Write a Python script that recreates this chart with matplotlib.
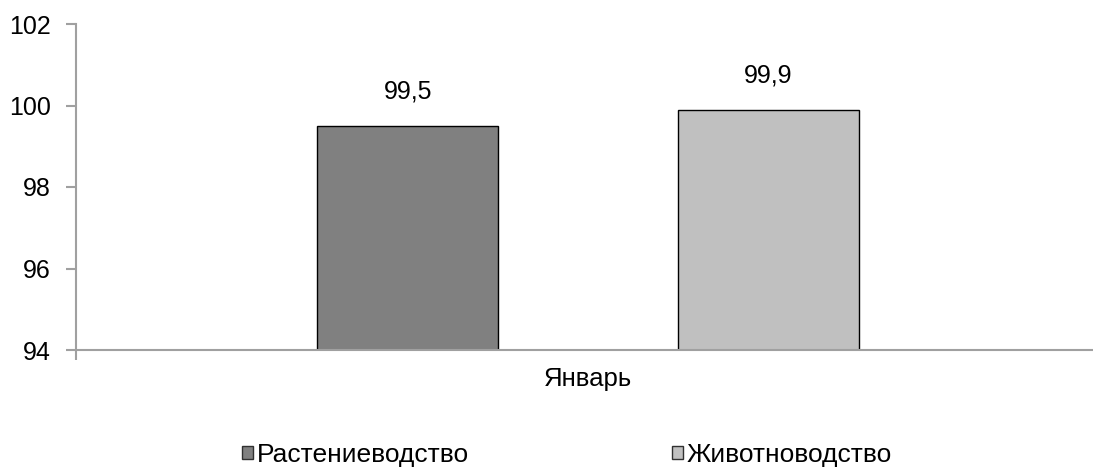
import matplotlib
matplotlib.use("Agg")
import matplotlib.pyplot as plt
from matplotlib.patches import Patch

plt.rcParams["font.family"] = ["Liberation Sans", "DejaVu Sans"]

category = "Январь"
series = ["Растениеводство", "Животноводство"]
values = [99.5, 99.9]
colors = ["#808080", "#c0c0c0"]
yticks = [94, 96, 98, 100, 102]

fig = plt.figure(figsize=(10.93, 4.68), dpi=100)
ax = fig.add_axes([76 / 1093, 1 - 350 / 468, 1024 / 1093, 326 / 468])

width = 0.177
offsets = [-0.176, 0.176]
for off, v, c, name in zip(offsets, values, colors, series):
    ax.bar(off, v - 94, bottom=94, width=width, color=c, edgecolor="black",
           linewidth=1.0, label=name)
    ax.text(off, v + 0.55, f"{v:.1f}".replace(".", ","), ha="center",
            va="bottom", fontsize=18)

ax.set_xlim(-0.5, 0.5)
ax.set_ylim(94, 102)
ax.set_yticks(yticks)
ax.set_yticklabels([str(t) for t in yticks], fontsize=18)
ax.set_xticks([0])
ax.set_xticklabels([category], fontsize=18.5)
ax.tick_params(axis="x", length=0, pad=12)
ax.set_xticks([-0.5, 0.5], minor=True)
ax.tick_params(axis="x", which="minor", length=7, color="#a0a0a0", width=1.5)
ax.tick_params(axis="y", length=7, color="#a0a0a0", width=1.5, pad=11)

for s in ["top", "right"]:
    ax.spines[s].set_visible(False)
for s in ["left", "bottom"]:
    ax.spines[s].set_color("#a0a0a0")
    ax.spines[s].set_linewidth(1.5)

handles = [Patch(facecolor=c, edgecolor="#303030", linewidth=1.0) for c in colors]
fig.legend(handles, series, loc="center", bbox_to_anchor=(567 / 1093, 1 - 455 / 468),
           ncol=2, frameon=False, fontsize=19, handlelength=0.42, handleheight=0.42,
           handletextpad=0.15, columnspacing=7.7)

fig.savefig("out.png", dpi=100)
